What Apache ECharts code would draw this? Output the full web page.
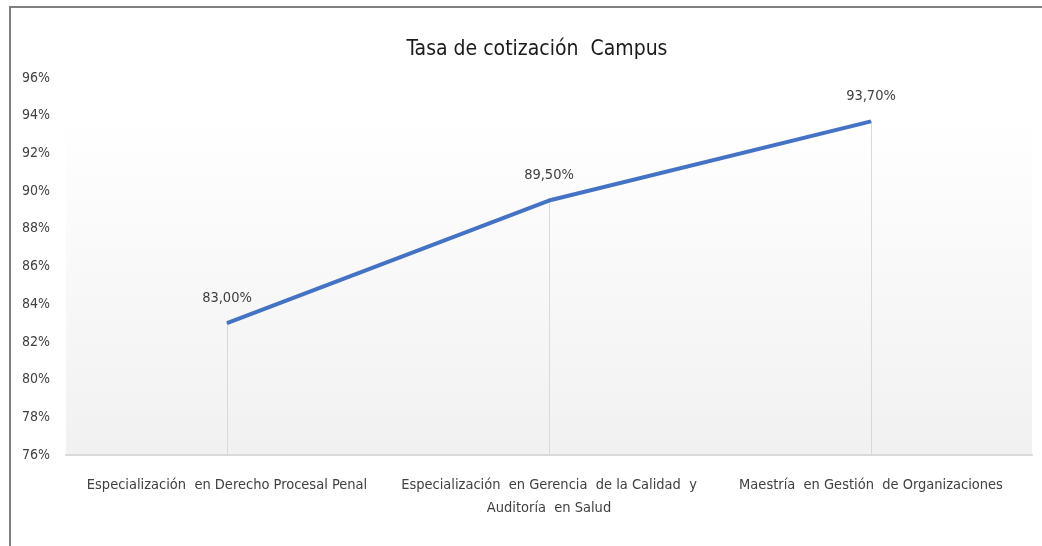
<!DOCTYPE html>
<html>
<head>
<meta charset="utf-8">
<script src="https://cdn.jsdelivr.net/npm/echarts@6/dist/echarts.min.js"></script>
<style>
  html, body { margin: 0; padding: 0; background: #fff; }
  #chart { width: 1042px; height: 546px; }
  #frame {
    position: absolute; left: 9px; top: 6px; width: 1040px; height: 538px;
    border-top: 2px solid #7f7f7f; border-left: 2px solid #7f7f7f;
    border-bottom: 1px solid #e4e4e4; pointer-events: none;
  }
</style>
</head>
<body>
<div id="chart"></div>
<div id="frame"></div>
<script>
// datos
const categorias = [
  'Especialización  en Derecho Procesal Penal',
  'Especialización  en Gerencia  de la Calidad  y\nAuditoría  en Salud',
  'Maestría  en Gestión  de Organizaciones'
];
const tasas = [83.0, 89.5, 93.7];
const ejeMin = 76;
const ejeMax = 96;
const ejePaso = 2;

const fuente = "'Liberation Sans Narrow', 'Arial Narrow', 'DejaVu Sans Condensed', sans-serif";

const chart = echarts.init(document.getElementById('chart'));

// lineas de caida desde cada punto hasta el eje
const lineasCaida = tasas.map((v, i) => [
  { coord: [i, v] },
  { coord: [i, ejeMin] }
]);

chart.setOption({
  animation: false,
  textStyle: { fontFamily: fuente },
  title: {
    text: 'Tasa de cotización  Campus',
    left: 532,
    textAlign: 'center',
    top: 34,
    textStyle: { fontFamily: fuente, fontSize: 21, fontWeight: 'normal', color: '#1a1a1a' }
  },
  grid: {
    left: 66, right: 10, top: 78, bottom: 91,
    show: true,
    borderWidth: 0,
    backgroundColor: {
      type: 'linear', x: 0, y: 0, x2: 0, y2: 1,
      colorStops: [
        { offset: 0, color: '#ffffff' },
        { offset: 0.1, color: '#ffffff' },
        { offset: 1, color: '#f1f1f1' }
      ]
    }
  },
  xAxis: {
    type: 'category',
    data: categorias,
    boundaryGap: true,
    axisLine: { lineStyle: { color: '#d9d9d9', width: 2 } },
    axisTick: { show: false },
    axisLabel: {
      interval: 0,
      margin: 19,
      fontFamily: fuente,
      fontSize: 14.5,
      lineHeight: 23,
      color: '#404040'
    }
  },
  yAxis: {
    type: 'value',
    min: ejeMin,
    max: ejeMax,
    interval: ejePaso,
    axisLine: { show: false },
    axisTick: { show: false },
    splitLine: { show: false },
    axisLabel: {
      margin: 16,
      fontFamily: fuente,
      fontSize: 14,
      color: '#404040',
      formatter: '{value}%'
    }
  },
  series: [{
    type: 'line',
    data: tasas,
    symbol: 'circle',
    symbolSize: 1,
    showSymbol: true,
    itemStyle: { color: '#4472c4' },
    lineStyle: { color: '#4472c4', width: 4 },
    label: {
      show: true,
      position: 'top',
      distance: 17,
      fontFamily: fuente,
      fontSize: 14.5,
      color: '#404040',
      formatter: p => p.value.toFixed(2).replace('.', ',') + '%'
    },
    markLine: {
      silent: true,
      symbol: 'none',
      label: { show: false },
      lineStyle: { color: '#d9d9d9', width: 1, type: 'solid' },
      z: 1,
      data: lineasCaida
    },
    z: 3
  }]
});
</script>
</body>
</html>
